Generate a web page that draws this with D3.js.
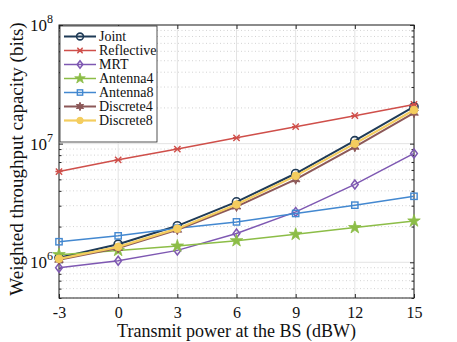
<!DOCTYPE html>
<meta charset="utf-8">
<script src="https://d3js.org/d3.v7.min.js"></script>
<style>
  body { margin: 0; background: #fff; }
  svg text { font-family: "Liberation Serif", "Times New Roman", serif !important; }
</style>
<body>
<div id="chart"></div>
<script>

// data
const power = [-3, 0, 3, 6, 9, 12, 15];
const joint      = [1.09e6, 1.42e6, 2.03e6, 3.23e6, 5.6e6, 1.06e7, 2.05e7];
const reflective = [5.82e6, 7.3e6, 9.0e6, 1.12e7, 1.39e7, 1.72e7, 2.14e7];
const mrt        = [9.0e5, 1.03e6, 1.26e6, 1.75e6, 2.66e6, 4.53e6, 8.27e6];
const antenna4   = [1.16e6, 1.26e6, 1.37e6, 1.52e6, 1.72e6, 1.96e6, 2.23e6];
const antenna8   = [1.49e6, 1.67e6, 1.94e6, 2.19e6, 2.58e6, 3.03e6, 3.6e6];
const discrete4  = [1.05e6, 1.32e6, 1.88e6, 2.95e6, 5.0e6, 9.4e6, 1.82e7];
const discrete8  = [1.07e6, 1.35e6, 1.92e6, 3.07e6, 5.35e6, 1.0e7, 1.92e7];

const seriesNames = ["Joint", "Reflective", "MRT", "Antenna4", "Antenna8", "Discrete4", "Discrete8"];
const seriesData = [joint, reflective, mrt, antenna4, antenna8, discrete4, discrete8];
const xTicks = [-3, 0, 3, 6, 9, 12, 15];
const yTicks = [1e6, 1e7, 1e8];

const colors = ["#1f3b57", "#cf4f4a", "#7e58b2", "#8cbd47", "#4388d0", "#8c5858", "#f4cd5e"];
const markers = ["circle", "asterisk", "diamond", "star5", "square", "star6", "dot"];
const widths = [2, 1.5, 1.5, 1.5, 1.5, 2, 2.2];

const FONT = "'Liberation Serif', 'Times New Roman', serif";

const W = 457, H = 342;
const margin = {top: 25, right: 43, bottom: 44, left: 59};
const width = W - margin.left - margin.right,
      height = H - margin.top - margin.bottom;

const svg = d3.select("#chart").append("svg")
    .attr("width", W).attr("height", H)
    .attr("font-family", FONT);
const g = svg.append("g")
    .attr("transform", `translate(${margin.left},${margin.top})`);

const x = d3.scaleLinear().domain([-3, 15]).range([0, width]);
const y = d3.scaleLog().domain([5e5, 1e8]).range([height, 0]);

// minor log ticks
const minor = [];
for (let e = 5; e <= 7; e++) for (let k = 2; k <= 9; k++) {
  const v = k * Math.pow(10, e);
  if (v >= 5e5 && v <= 1e8) minor.push(v);
}

// grid
g.selectAll(".minorgrid").data(minor).join("line")
  .attr("x1", 0).attr("x2", width)
  .attr("y1", d => y(d)).attr("y2", d => y(d))
  .attr("stroke", "#c8c8c8").attr("stroke-width", 0.8)
  .attr("stroke-dasharray", "1,2.5");
g.selectAll(".xgrid").data(xTicks).join("line")
  .attr("x1", d => x(d)).attr("x2", d => x(d))
  .attr("y1", 0).attr("y2", height)
  .attr("stroke", "#e3e3e3").attr("stroke-width", 1);
g.selectAll(".ygrid").data(yTicks).join("line")
  .attr("x1", 0).attr("x2", width)
  .attr("y1", d => y(d)).attr("y2", d => y(d))
  .attr("stroke", "#e3e3e3").attr("stroke-width", 1);

// axes with inward ticks on all sides
const axisColor = "#262626";
function styleAxis(sel) {
  sel.attr("font-family", FONT);
  sel.select(".domain").remove();
  sel.selectAll("line").attr("stroke", axisColor);
  sel.selectAll("text").attr("fill", "#111").style("font-size", "16px");
}
g.append("g").attr("transform", `translate(0,${height})`)
  .call(d3.axisBottom(x).tickValues(xTicks).tickSize(-4).tickPadding(9).tickFormat(d => String(d)))
  .call(styleAxis);
g.append("g")
  .call(d3.axisTop(x).tickValues(xTicks).tickSize(-4).tickFormat(""))
  .call(styleAxis);

g.append("g")
  .call(d3.axisLeft(y).tickValues(yTicks).tickSize(-4).tickFormat(""))
  .call(styleAxis);
g.append("g").call(d3.axisLeft(y).tickValues(minor).tickSize(-2.5).tickFormat("")).call(styleAxis);
g.append("g").attr("transform", `translate(${width},0)`)
  .call(d3.axisRight(y).tickValues(yTicks).tickSize(-4).tickFormat("")).call(styleAxis);
g.append("g").attr("transform", `translate(${width},0)`)
  .call(d3.axisRight(y).tickValues(minor).tickSize(-2.5).tickFormat("")).call(styleAxis);

// y tick labels 10^n
g.selectAll(".ylab").data(yTicks).join("text")
  .attr("x", -6).attr("y", d => y(d) + 6)
  .attr("text-anchor", "end")
  .style("font-size", "17px").attr("fill", "#111")
  .each(function(d) {
    const t = d3.select(this);
    t.append("tspan").text("10");
    t.append("tspan").attr("dy", -8).style("font-size", "12px").text(Math.round(Math.log10(d)));
  });

// box
g.append("rect").attr("width", width).attr("height", height)
  .attr("fill", "none").attr("stroke", axisColor).attr("stroke-width", 1);

// marker drawing
function drawMarker(sel, type, color, size) {
  const s = size;
  if (type == "circle") {
    sel.append("circle").attr("r", s * 0.9).attr("fill", "none").attr("stroke", color).attr("stroke-width", 1.6);
  } else if (type == "dot") {
    sel.append("circle").attr("r", s * 0.85).attr("fill", color).attr("stroke", color);
  } else if (type == "asterisk") {
    sel.append("path").attr("d", `M${-s*0.7},${-s*0.7}L${s*0.7},${s*0.7}M${-s*0.7},${s*0.7}L${s*0.7},${-s*0.7}M${-s*0.8},0L${s*0.8},0`)
      .attr("stroke", color).attr("stroke-width", 1.4).attr("fill", "none");
  } else if (type == "diamond") {
    sel.append("path").attr("d", `M0,${-s}L${s*0.75},0L0,${s}L${-s*0.75},0Z`)
      .attr("fill", "none").attr("stroke", color).attr("stroke-width", 1.5);
  } else if (type == "square") {
    sel.append("rect").attr("x", -s * 0.7).attr("y", -s * 0.7).attr("width", s * 1.4).attr("height", s * 1.4)
      .attr("fill", "none").attr("stroke", color).attr("stroke-width", 1.4);
  } else if (type == "star5") {
    sel.append("path").attr("d", d3.symbol(d3.symbolStar, s * s * 2.4)())
      .attr("fill", color).attr("stroke", color).attr("stroke-width", 0.8);
  } else if (type == "star6") {
    const pts = [];
    for (let i = 0; i < 12; i++) {
      const r = i % 2 == 0 ? s * 1.1 : s * 0.55;
      const a = Math.PI / 6 * i - Math.PI / 2;
      pts.push([r * Math.cos(a), r * Math.sin(a)]);
    }
    sel.append("path").attr("d", "M" + pts.join("L") + "Z").attr("fill", color).attr("stroke", color);
  }
}

const line = d3.line().x((d, i) => x(power[i])).y(d => y(d));

seriesData.forEach((vals, k) => {
  const sg = g.append("g");
  sg.append("path").datum(vals)
    .attr("d", line).attr("fill", "none")
    .attr("stroke", colors[k]).attr("stroke-width", widths[k]);
  vals.forEach((v, i) => {
    const m = sg.append("g").attr("transform", `translate(${x(power[i])},${y(v)})`);
    drawMarker(m, markers[k], colors[k], 4.5);
  });
});

// legend
const leg = g.append("g").attr("transform", "translate(1,1)");
leg.append("rect").attr("width", 97).attr("height", 116)
  .attr("fill", "#fff").attr("stroke", axisColor).attr("stroke-width", 0.8);
seriesNames.forEach((name, k) => {
  const ly = 10.5 + k * 14;
  const row = leg.append("g");
  row.append("line").attr("x1", 4).attr("x2", 36).attr("y1", ly).attr("y2", ly)
    .attr("stroke", colors[k]).attr("stroke-width", widths[k]);
  drawMarker(row.append("g").attr("transform", `translate(20,${ly})`), markers[k], colors[k], 3.8);
  row.append("text").attr("x", 39).attr("y", ly + 4.5)
    .style("font-size", "14px").attr("fill", "#111").text(name);
});

// axis titles
svg.append("text")
  .attr("x", margin.left + width / 2).attr("y", 337)
  .attr("text-anchor", "middle").style("font-size", "18px").attr("fill", "#111")
  .text("Transmit power at the BS (dBW)");
svg.append("text")
  .attr("transform", `translate(23,159) rotate(-90)`)
  .attr("text-anchor", "middle").style("font-size", "19px").attr("fill", "#111")
  .text("Weighted throughput capacity (bits)");

</script>
</body>
